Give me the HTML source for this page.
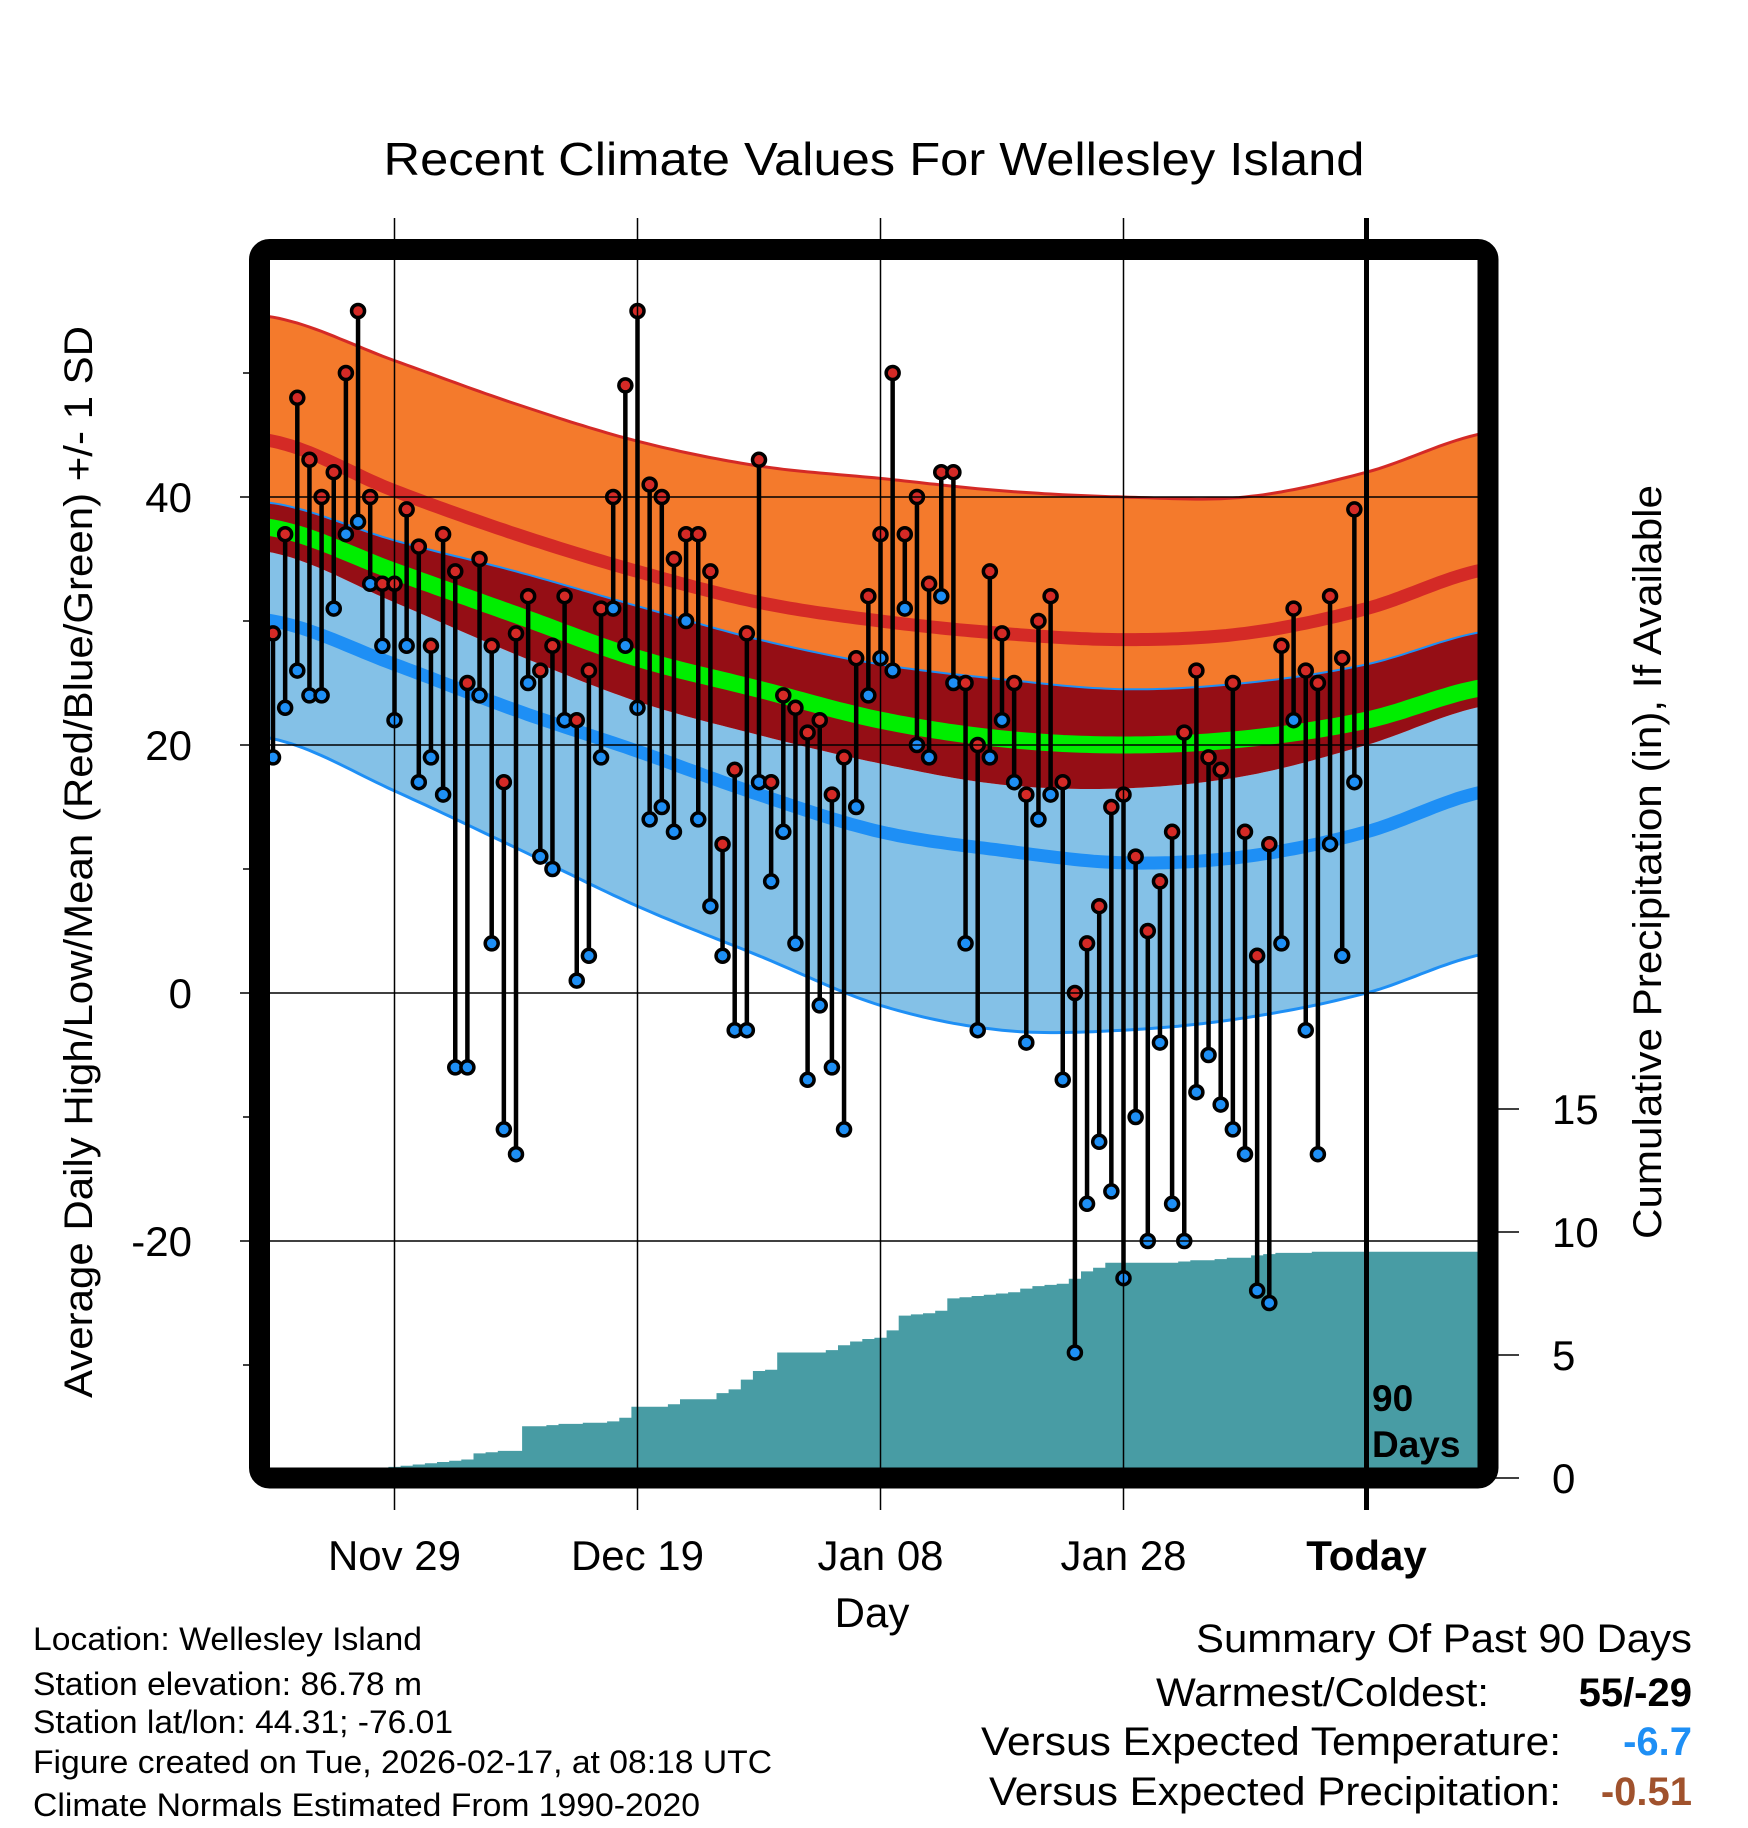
<!DOCTYPE html>
<html><head><meta charset="utf-8"><style>
html,body{margin:0;padding:0;background:#fff;}
svg{display:block;font-family:"Liberation Sans",Arial,sans-serif;}
</style></head><body>
<svg id="chart" width="1748" height="1828" viewBox="0 0 1748 1828" xmlns="http://www.w3.org/2000/svg">
<defs><clipPath id="plotclip"><rect x="270" y="260" width="1208" height="1208"/></clipPath></defs>
<text x="874" y="175" font-size="46" text-anchor="middle" textLength="981" lengthAdjust="spacingAndGlyphs">Recent Climate Values For Wellesley Island</text>
<g id="plot" clip-path="url(#plotclip)"></g>
<g id="overlay"></g>
<text transform="translate(92,862) rotate(-90)" font-size="40" text-anchor="middle" textLength="1072" lengthAdjust="spacingAndGlyphs">Average Daily High/Low/Mean (Red/Blue/Green) +/- 1 SD</text>
<text transform="translate(1661,862) rotate(-90)" font-size="40" text-anchor="middle" textLength="754" lengthAdjust="spacingAndGlyphs">Cumulative Precipitation (in), If Available</text>
<text x="872" y="1627" font-size="42" text-anchor="middle">Day</text>
<g font-size="32">
<text x="33" y="1650" textLength="389" lengthAdjust="spacingAndGlyphs">Location: Wellesley Island</text>
<text x="33" y="1695" textLength="389" lengthAdjust="spacingAndGlyphs">Station elevation: 86.78 m</text>
<text x="33" y="1733" textLength="420" lengthAdjust="spacingAndGlyphs">Station lat/lon: 44.31; -76.01</text>
<text x="33" y="1773" textLength="739" lengthAdjust="spacingAndGlyphs">Figure created on Tue, 2026-02-17, at 08:18 UTC</text>
<text x="33" y="1816" textLength="667" lengthAdjust="spacingAndGlyphs">Climate Normals Estimated From 1990-2020</text>
</g>
<g font-size="40" text-anchor="end">
<text x="1692" y="1652" textLength="496" lengthAdjust="spacingAndGlyphs">Summary Of Past 90 Days</text>
<text x="1489" y="1706" textLength="333" lengthAdjust="spacingAndGlyphs">Warmest/Coldest:</text>
<text x="1692" y="1706" font-weight="bold">55/-29</text>
<text x="1561" y="1755" textLength="580" lengthAdjust="spacingAndGlyphs">Versus Expected Temperature:</text>
<text x="1692" y="1755" font-weight="bold" fill="#1e8ff5">-6.7</text>
<text x="1561" y="1805" textLength="572" lengthAdjust="spacingAndGlyphs">Versus Expected Precipitation:</text>
<text x="1692" y="1805" font-weight="bold" fill="#a0522d">-0.51</text>
</g>
</svg>
<script>
const highs=[29,37,48,43,40,42,50,55,40,33,33,39,36,28,37,34,25,35,28,17,29,32,26,28,32,22,26,31,40,49,55,41,40,35,37,37,34,12,18,29,43,17,24,23,21,22,16,19,27,32,37,50,37,40,33,42,42,25,20,34,29,25,16,30,32,17,0,4,7,15,16,11,5,9,13,21,26,19,18,25,13,3,12,28,31,26,25,32,27,39];
const lows=[19,23,26,24,24,31,37,38,33,28,22,28,17,19,16,-6,-6,24,4,-11,-13,25,11,10,22,1,3,19,31,28,23,14,15,13,30,14,7,3,-3,-3,17,9,13,4,-7,-1,-6,-11,15,24,27,26,31,20,19,32,25,4,-3,19,22,17,-4,14,16,-7,-29,-17,-12,-16,-23,-10,-20,-4,-17,-20,-8,-5,-9,-11,-13,-24,-25,4,22,-3,-13,12,3,17];
const precip=[0,0,0,0,0,0,0,0,0,0,0.45,0.5,0.55,0.6,0.65,0.7,0.75,1.0,1.05,1.1,1.1,2.1,2.1,2.15,2.2,2.2,2.25,2.25,2.3,2.45,2.9,2.9,2.9,3.0,3.2,3.2,3.2,3.45,3.6,4.0,4.35,4.4,5.1,5.1,5.1,5.1,5.2,5.4,5.55,5.65,5.7,6.0,6.6,6.65,6.7,6.8,7.3,7.35,7.4,7.45,7.5,7.55,7.7,7.8,7.85,7.9,8.1,8.4,8.55,8.75,8.75,8.75,8.75,8.75,8.75,8.8,8.85,8.85,8.9,8.95,8.95,9.05,9.1,9.15,9.15,9.15,9.2,9.2,9.2,9.2];
const normDays=[0,10,20,30,40,50,60,70,80,90,100];
const orangeTop=[54.5,51,47.5,44.5,42.5,41.5,40.5,40,40,42,45.2];
const normHigh=[44.5,40.5,37,34,31.5,30,29,28.5,29,31,34.2];
const darkTop=[39.5,36.5,34,31.2,28.5,26.5,25.3,24.5,25,26.5,29.2];
const normMean=[37.5,34,30.5,27,24.5,22,20.5,20,20.5,22,24.7];
const darkBottom=[35.5,31.5,27.3,23.5,20.8,18.5,16.8,16.5,17.5,20,23.2];
const normLow=[30,26.5,22.8,19.5,16,13,11.5,10.5,11,13,16.3];
const lowBottom=[20.5,16.3,11.7,7,3,-1,-3,-3,-2,0,3.2];
const dateLabels=["Nov 29","Dec 19","Jan 08","Jan 28","Today"];
const dateDays=[10,30,50,70,90];
const tempTicks=[40,20,0,-20];
const tempMinor=[50,30,10,-10,-30];
const precipTicks=[0,5,10,15];

const NS="http://www.w3.org/2000/svg";
const xDay=d=>273+d*12.15;
const yT=t=>993-t*12.4;
const yP=p=>1478-p*24.6;
function mk(tag,attrs,parent){const e=document.createElementNS(NS,tag);for(const k in attrs)e.setAttribute(k,attrs[k]);parent.appendChild(e);return e;}
function interp(arr,d){
  let i=Math.max(0,Math.min(Math.floor(d/10),normDays.length-2));
  const t=(d-normDays[i])/10;
  const p0=arr[Math.max(i-1,0)],p1=arr[i],p2=arr[i+1],p3=arr[Math.min(i+2,arr.length-1)];
  return 0.5*((2*p1)+(-p0+p2)*t+(2*p0-5*p1+4*p2-p3)*t*t+(-p0+3*p1-3*p2+p3)*t*t*t);
}
const samples=[];for(let d=-1;d<=100;d+=0.5)samples.push(d);
function curvePts(arr){return samples.map(d=>[xDay(d),yT(interp(arr,d))]);}
function bandPath(top,bot){const a=curvePts(top),b=curvePts(bot).reverse();return "M"+a.concat(b).map(p=>p[0].toFixed(1)+","+p[1].toFixed(1)).join("L")+"Z";}
function linePath(arr){return "M"+curvePts(arr).map(p=>p[0].toFixed(1)+","+p[1].toFixed(1)).join("L");}
const plot=document.getElementById('plot');
const ov=document.getElementById('overlay');
const svg=document.getElementById('chart');

let e;
e=mk('path',{d:bandPath(darkBottom,lowBottom),fill:'#84c1e7'},plot);


e=mk('path',{d:bandPath(darkTop,darkBottom),fill:'#950e15'},plot);


e=mk('path',{d:bandPath(orangeTop,darkTop),fill:'#f47a2c'},plot);


e=mk('path',{d:linePath(orangeTop),fill:'none',stroke:'#d42a26',"stroke-width":3},plot);


e=mk('path',{d:linePath(darkTop),fill:'none',stroke:'#1e8ff5',"stroke-width":2},plot);


e=mk('path',{d:linePath(lowBottom),fill:'none',stroke:'#1e8ff5',"stroke-width":3},plot);


e=mk('path',{d:linePath(normHigh),fill:'none',stroke:'#d42a26',"stroke-width":13},plot);


e=mk('path',{d:linePath(normMean),fill:'none',stroke:'#00ee00',"stroke-width":17},plot);


e=mk('path',{d:linePath(normLow),fill:'none',stroke:'#1e8ff5',"stroke-width":13},plot);



let pd="M"+xDay(-0.5)+","+yP(0);
precip.forEach((p,i)=>{pd+="L"+xDay(i-0.5).toFixed(1)+","+yP(p).toFixed(1)+"L"+xDay(i+0.5).toFixed(1)+","+yP(p).toFixed(1);});
pd+="L1480,"+yP(precip[precip.length-1]).toFixed(1)+"L1480,"+yP(0)+"Z";
e=mk('path',{d:pd,fill:'#489ca4'},plot);



tempTicks.forEach(t=>{
  const g=mk('line',{x1:240,x2:1478,y1:yT(t),y2:yT(t),stroke:'#000',"stroke-width":1.5},svg);
  
  
  const l=mk('text',{x:192,y:yT(t)+15,"font-size":42,"text-anchor":"end"},svg);
  l.textContent=t;
  
  
});
tempMinor.forEach(t=>{
  const g=mk('line',{x1:243,x2:250,y1:yT(t),y2:yT(t),stroke:'#000',"stroke-width":1.5},svg);
  
  
});
dateDays.forEach((d,i)=>{
  const today=i===dateDays.length-1;
  const g=mk('line',{x1:xDay(d),x2:xDay(d),y1:218,y2:1510,stroke:'#000',"stroke-width":today?5:1.5},today?ov:svg);
  
  
  const l=mk('text',{x:xDay(d),y:1570,"font-size":42,"text-anchor":"middle","font-weight":today?"bold":"normal"},svg);
  l.textContent=dateLabels[i];
  
  
});
precipTicks.forEach(p=>{
  const g=mk('line',{x1:1490,x2:1519,y1:yP(p),y2:yP(p),stroke:'#000',"stroke-width":1.5},svg);
  
  
  const l=mk('text',{x:1552,y:yP(p)+15,"font-size":42},svg);
  l.textContent=p;
  
  
});

highs.forEach((h,i)=>{
  const x=xDay(i);
  const s=mk('line',{x1:x,x2:x,y1:yT(h),y2:yT(lows[i]),stroke:'#000',"stroke-width":4.5},ov);
  
  
});
highs.forEach((h,i)=>{
  const x=xDay(i);
  const a=mk('circle',{cx:x,cy:yT(lows[i]),r:6.5,fill:'#1e8ff5',stroke:'#000',"stroke-width":3.5},ov);
  
  
  const b=mk('circle',{cx:x,cy:yT(h),r:6.5,fill:'#d42a26',stroke:'#000',"stroke-width":3.5},ov);
  
  
});
const fr=mk('rect',{x:259.5,y:249.5,width:1228.5,height:1228.5,rx:10,fill:'none',stroke:'#000',"stroke-width":21},svg);


const t1=mk('text',{x:1372,y:1411,"font-size":37,"font-weight":"bold"},svg);
t1.textContent="90";


const t2=mk('text',{x:1372,y:1457,"font-size":37,"font-weight":"bold"},svg);
t2.textContent="Days";


</script>
</body></html>
